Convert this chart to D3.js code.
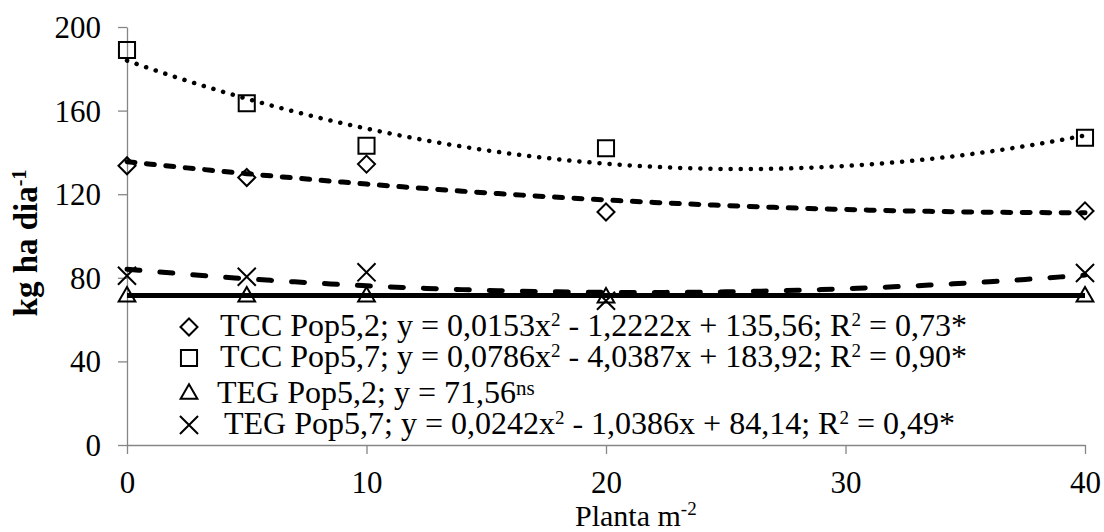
<!DOCTYPE html>
<html><head><meta charset="utf-8">
<script src="https://cdn.jsdelivr.net/npm/d3@7"></script>
<style>body{margin:0;background:#fff}svg{display:block}</style>
</head><body>
<svg id="c" width="1104" height="532"></svg>
<script>
const FONT = '"Liberation Serif", "Times New Roman", Tinos, serif';
const xValues = [0, 5, 10, 20, 40];
const tccPop52 = [133.6, 128, 134.4, 111.5, 112];
const tccPop57 = [189, 163.5, 143.2, 142, 147];
const tegPop52 = [71, 71, 71, 70.5, 71];
const tegPop57 = [81, 80.5, 82.6, 69, 82.3];
// regression coefficients [a, b, c] for y = a x^2 + b x + c (from legend)
const fitTcc52 = [0.0153, -1.2222, 135.56];
const fitTcc57 = [0.0786, -4.0387, 183.92];
const fitTeg52 = [0, 0, 71.56];
const fitTeg57 = [0.0242, -1.0386, 84.14];
const xTicks = [0, 10, 20, 30, 40];
const yTicks = [0, 40, 80, 120, 160, 200];

const svg = d3.select("#c");
const m = {l:127, t:27, w:958, h:418};
const x = d3.scaleLinear().domain([0,40]).range([m.l, m.l+m.w]);
const y = d3.scaleLinear().domain([0,200]).range([m.t+m.h, m.t]);

const gx = svg.append("g").attr("transform",`translate(0,${m.t+m.h})`)
  .call(d3.axisBottom(x).tickValues(xTicks).tickSize(9).tickPadding(17).tickSizeOuter(0));
const gy = svg.append("g").attr("transform",`translate(${m.l},0)`)
  .call(d3.axisLeft(y).tickValues(yTicks).tickSize(9).tickPadding(17).tickSizeOuter(0));
[gx,gy].forEach(g=>{
  g.selectAll("path,line").attr("stroke","#868686").attr("stroke-width",1.3);
  g.selectAll("text").style("font-family", FONT).style("font-size","31px").style("fill","#000");
});
gy.selectAll("text").attr("dy","0.34em");

const fitX = d3.range(0, 40.01, 0.5);
function curve(coef){ return fitX.map(v=>[v, coef[0]*v*v + coef[1]*v + coef[2]]); }
const line = d3.line().x(d=>x(d[0])).y(d=>y(d[1]));
svg.append("path").attr("d", line(curve(fitTeg52))).attr("fill","none").attr("stroke","#000").attr("stroke-width",5);
svg.append("path").attr("d", line(curve(fitTeg57))).attr("fill","none").attr("stroke","#000").attr("stroke-width",5)
  .attr("stroke-dasharray","13 20").attr("stroke-linecap","round");
svg.append("path").attr("d", line(curve(fitTcc52))).attr("fill","none").attr("stroke","#000").attr("stroke-width",5)
  .attr("stroke-dasharray","8 11.5").attr("stroke-linecap","round");
svg.append("path").attr("d", line(curve(fitTcc57))).attr("fill","none").attr("stroke","#000").attr("stroke-width",4.5)
  .attr("stroke-dasharray","0.1 10").attr("stroke-linecap","round");

const sym = {
  diamond: d3.symbol().type(d3.symbolDiamond2).size(185),
  square: d3.symbol().type(d3.symbolSquare2).size(330),
  triangle: d3.symbol().type(d3.symbolTriangle2).size(200),
  cross: d3.symbol().type(d3.symbolX).size(215)
};
function drawMarkers(vals, s){
  svg.append("g").selectAll("path").data(vals).join("path")
    .attr("transform",(d,i)=>`translate(${x(xValues[i])},${y(d)})`)
    .attr("d", s).attr("fill","none").attr("stroke","#000").attr("stroke-width",2);
}
drawMarkers(tccPop52, sym.diamond);
drawMarkers(tccPop57, sym.square);
drawMarkers(tegPop52, sym.triangle);
drawMarkers(tegPop57, sym.cross);

const legend = [
  {s:sym.diamond, y:327, tx:220, parts:[["TCC Pop5,2; y = 0,0153x"],["2",1],[" - 1,2222x + 135,56; R"],["2",1],[" = 0,73*"]]},
  {s:sym.square, y:358, tx:220, parts:[["TCC Pop5,7; y = 0,0786x"],["2",1],[" - 4,0387x + 183,92; R"],["2",1],[" = 0,90*"]]},
  {s:sym.triangle, y:394, tx:217, parts:[["TEG Pop5,2; y = 71,56"],["ns",2]]},
  {s:sym.cross, y:425, tx:224, parts:[["TEG Pop5,7; y = 0,0242x"],["2",1],[" - 1,0386x + 84,14; R"],["2",1],[" = 0,49*"]]}
];
legend.forEach(L=>{
  svg.append("path").attr("transform",`translate(189,${L.y})`).attr("d",L.s)
    .attr("fill","none").attr("stroke","#000").attr("stroke-width",2);
  const t = svg.append("text").attr("x",L.tx).attr("y",L.y+8.5)
    .style("font-family",FONT).style("font-size","32px").style("fill","#000");
  L.parts.forEach((p,i)=>{
    const ts = t.append("tspan").text(p[0]);
    if(p[1]===1) ts.style("font-size","19px").attr("dy","-10");
    else if(p[1]===2) ts.style("font-size","21px").attr("dy","-8");
    else if(i>0) ts.attr("dy","10");
  });
});

const xt = svg.append("text").attr("x",575).attr("y",526)
  .style("font-family",FONT).style("font-size","30px").style("fill","#000");
xt.append("tspan").text("Planta m");
xt.append("tspan").text("-2").style("font-size","19px").attr("dy","-11");
const yt = svg.append("text").attr("transform","translate(37,243) rotate(-90)").attr("text-anchor","middle")
  .style("font-family",FONT).style("font-size","33px").style("font-weight","bold").style("fill","#000");
yt.append("tspan").text("kg ha dia");
yt.append("tspan").text("-1").style("font-size","20px").attr("dy","-11");
</script>
</body></html>
